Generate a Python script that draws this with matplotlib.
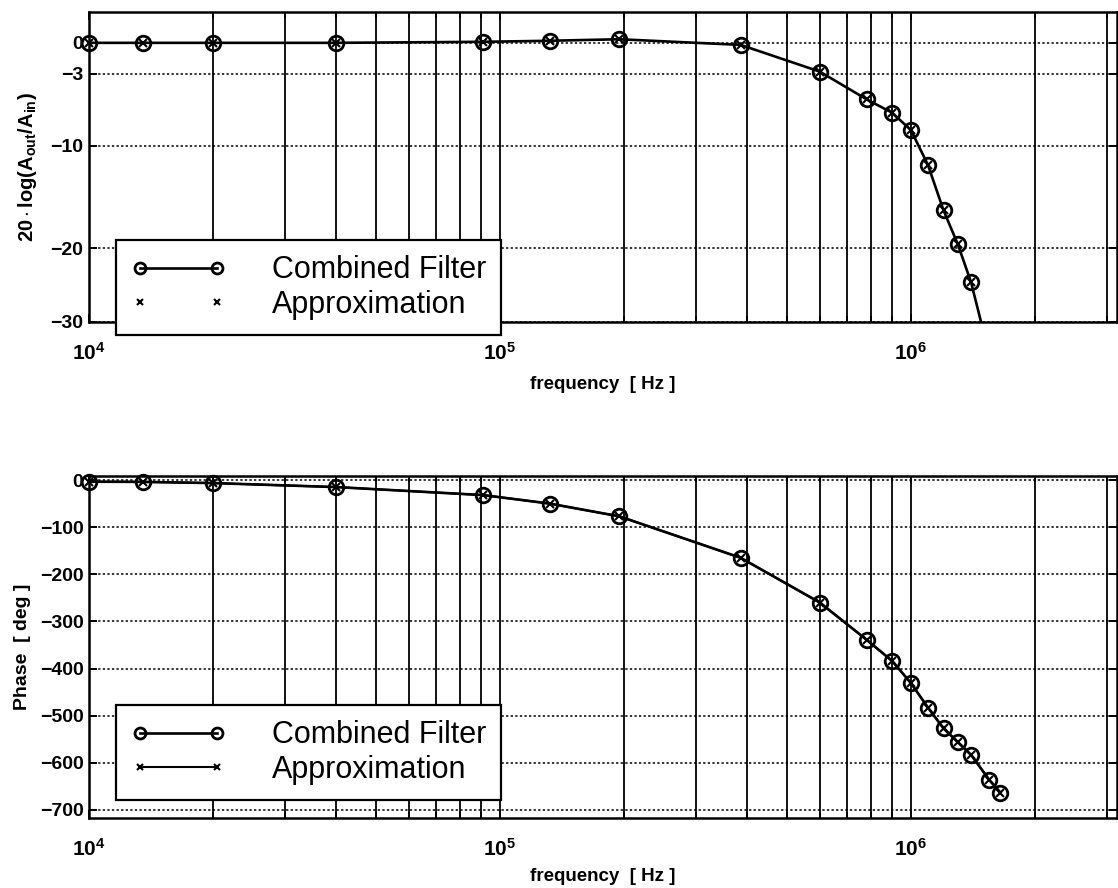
import numpy as np
import matplotlib
matplotlib.use("Agg")
import matplotlib.pyplot as plt
from matplotlib.patches import Rectangle
from matplotlib.ticker import FixedLocator, NullFormatter, LogLocator

plt.rcParams['font.family'] = ['Liberation Sans', 'DejaVu Sans']
plt.rcParams['mathtext.fontset'] = 'custom'
plt.rcParams['mathtext.rm'] = 'Liberation Sans'
plt.rcParams['mathtext.bf'] = 'Liberation Sans:bold'
plt.rcParams['mathtext.it'] = 'Liberation Sans:italic'

# ---------------- data ----------------
freq_gain = [1e4, 1.35e4, 2e4, 4e4, 9.1e4, 1.32e5, 1.95e5, 3.85e5, 6e5, 7.8e5,
             9e5, 1e6, 1.1e6, 1.2e6, 1.3e6, 1.4e6, 1.55e6, 1.65e6]
gain_combined = [0, 0, 0, 0, 0.1, 0.2, 0.35, -0.2, -2.8, -5.5,
                 -6.8, -8.5, -11.9, -16.3, -19.6, -24.6, -34.4, -38.0]
gain_approx = [0, 0, 0, 0, 0.1, 0.2, 0.35, -0.2, -2.8, -5.5,
               -6.8, -8.5, -11.9, -16.3, -19.6, -24.6, -34.4, -38.0]

freq_phase = [1e4, 1.35e4, 2e4, 4e4, 9.1e4, 1.32e5, 1.95e5, 3.85e5, 6e5, 7.8e5,
              9e5, 1e6, 1.1e6, 1.2e6, 1.3e6, 1.4e6, 1.55e6, 1.65e6]
phase_combined = [-3.6, -4, -6.5, -15, -32, -50, -77, -165, -260, -339,
                  -384, -431, -483, -527, -556, -583, -636, -663]
phase_approx = [-3.6, -4, -6.5, -15, -32, -50, -77, -165, -260, -339,
                -384, -431, -483, -527, -556, -583, -636, -663]

gain_ticks = [0, -3, -10, -20, -30]
gain_ticklabels = ['0', '\u22123', '\u221210', '\u221220', '\u221230']
phase_ticks = [0, -100, -200, -300, -400, -500, -600, -700]
phase_ticklabels = ['0', '\u2212100', '\u2212200', '\u2212300', '\u2212400',
                    '\u2212500', '\u2212600', '\u2212700']
x_major = [1e4, 1e5, 1e6]
x_major_labels = [r'$\mathbf{10^{4}}$', r'$\mathbf{10^{5}}$', r'$\mathbf{10^{6}}$']
legend_labels = ['Combined Filter', 'Approximation']

# ---------------- figure ----------------
W, H = 1118, 888
fig = plt.figure(figsize=(W / 100, H / 100), dpi=100)

def fpos(left, top, right, bottom):
    return [left / W, 1 - bottom / H, (right - left) / W, (bottom - top) / H]

ax1 = fig.add_axes(fpos(89, 12, 1116.5, 322))
ax2 = fig.add_axes(fpos(89, 476, 1116.5, 818))

# compressed lower part of the gain axis (as in the reference)
def fwd(y):
    y = np.asarray(y, dtype=float)
    return np.where(y >= -20, y, -20 + (y + 20) * 0.716)

def inv(t):
    t = np.asarray(t, dtype=float)
    return np.where(t >= -20, t, -20 + (t + 20) / 0.716)

ax1.set_yscale('function', functions=(fwd, inv))

def style_axes(ax, yticks, ylabels, ylim, xlabelpad):
    ax.set_xscale('log')
    ax.set_xlim(1e4, 10 ** 6.5)
    ax.set_ylim(*ylim)
    ax.xaxis.set_major_locator(FixedLocator(x_major))
    ax.set_xticklabels(x_major_labels, fontsize=15)
    ax.xaxis.set_minor_locator(LogLocator(base=10, subs=np.arange(2, 10), numticks=20))
    ax.xaxis.set_minor_formatter(NullFormatter())
    ax.yaxis.set_major_locator(FixedLocator(yticks))
    ax.set_yticklabels(ylabels, fontsize=14, fontweight='bold')
    ax.yaxis.set_minor_locator(FixedLocator([]))
    ax.tick_params(axis='both', which='both', direction='in', top=True, right=True,
                   width=1.4, color='k')
    ax.tick_params(axis='y', which='major', length=6, pad=4)
    ax.tick_params(axis='x', which='major', length=6, pad=14)
    ax.tick_params(axis='x', which='minor', length=4)
    ax.grid(True, axis='x', which='both', color='k', linestyle='-', linewidth=1.3)
    ax.grid(True, axis='y', which='major', color='k', linestyle=(0, (1.5, 1.5)), linewidth=1.1)
    for s in ax.spines.values():
        s.set_linewidth(1.8)
        s.set_color('k')
    ax.set_xlabel('frequency  [ Hz ]', fontsize=13.5, fontweight='bold', labelpad=xlabelpad)

def draw(ax, f, comb, appr, approx_line):
    clip = Rectangle((-0.02, -0.0), 1.02, 1.03, transform=ax.transAxes, facecolor='none')
    l1, = ax.plot(f, comb, color='k', linewidth=1.9, marker='o', markersize=10.5,
                  markerfacecolor='none', markeredgewidth=2.0, markeredgecolor='k', zorder=3)
    l1.set_clip_path(clip)
    l2, = ax.plot(f, appr, color='k', linewidth=1.5 if approx_line else 0,
                  linestyle='-' if approx_line else 'none',
                  marker='x', markersize=5.5, markeredgewidth=1.5, zorder=4)
    l2.set_clip_path(clip)
    return l1, l2

style_axes(ax1, gain_ticks, gain_ticklabels, (-30, 3), 9)
style_axes(ax2, phase_ticks, phase_ticklabels, (-717, 8.5), 6)

h1 = draw(ax1, freq_gain, gain_combined, gain_approx, False)
h2 = draw(ax2, freq_phase, phase_combined, phase_approx, True)

ax1.set_ylabel(r'$\mathbf{20\cdot log(A_{out}/A_{in})}$', fontsize=14.5, labelpad=8)
ax2.set_ylabel('Phase  [ deg ]', fontsize=14, fontweight='bold', labelpad=6)

def add_legend(ax, handles, top_px):
    leg = ax.legend(handles, legend_labels, loc='upper left',
                    bbox_to_anchor=(116 / W, 1 - top_px / H), bbox_transform=fig.transFigure,
                    fontsize=22, numpoints=2, handlelength=3.1, handletextpad=1.5,
                    borderpad=0.5, labelspacing=0.15, borderaxespad=0,
                    fancybox=False, framealpha=1, edgecolor='k', markerscale=0.75)
    leg.get_frame().set_linewidth(1.6)
    leg.set_zorder(10)
    return leg

add_legend(ax1, h1, 240)
add_legend(ax2, h2, 705)

fig.savefig('out.png', dpi=100)
